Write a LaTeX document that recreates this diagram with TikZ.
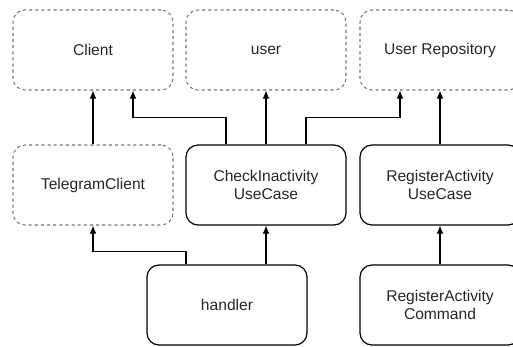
\documentclass[tikz,border=0pt]{standalone}
\usepackage{fontspec}
\setmainfont{Liberation Sans}
\usetikzlibrary{arrows.meta}
\begin{document}
\begin{tikzpicture}[x=0.75pt,y=0.75pt,
  box/.style={draw=black, line width=0.9pt, rounded corners=9pt,
    minimum width=120pt, minimum height=60pt, align=center,
    font=\fontsize{11.7}{14}\selectfont, text=black!85, inner sep=0pt},
  extbox/.style={box, draw=black!55, dash pattern=on 2.3pt off 2.3pt, line width=0.8pt},
  arr/.style={line width=0.8pt, -{Latex[length=6pt,width=5pt]}}]
\useasboundingbox (0,0) rectangle (513,-346);
% outer dependencies (dashed)
\node[extbox] (client) at (93,-50) {Client};
\node[extbox] (user) at (266,-50) {user};
\node[extbox] (repo) at (440,-50) {User Repository};
\node[extbox] (tg) at (93,-185) {TelegramClient};
% use cases and entry points
\node[box] (ci) at (266,-185) {CheckInactivity\\UseCase};
\node[box] (ra) at (440,-185) {RegisterActivity\\UseCase};
\node[box] (h) at (227,-305) {handler};
\node[box] (rc) at (440,-305) {RegisterActivity\\Command};
% connectors
\draw[arr] (tg.north) -- (client.south);
\draw[arr] ([xshift=-30pt]ci.north) -- ++(0,27) -| ([xshift=30pt]client.south);
\draw[arr] (ci.north) -- (user.south);
\draw[arr] ([xshift=30pt]ci.north) -- ++(0,27) -| ([xshift=-30pt]repo.south);
\draw[arr] (ra.north) -- (repo.south);
\draw[arr] ([xshift=-30.75pt]h.north) -- ++(0,13) -| (tg.south);
\draw[arr] ([xshift=29.25pt]h.north) -- (ci.south);
\draw[arr] (rc.north) -- (ra.south);
\end{tikzpicture}
\end{document}
